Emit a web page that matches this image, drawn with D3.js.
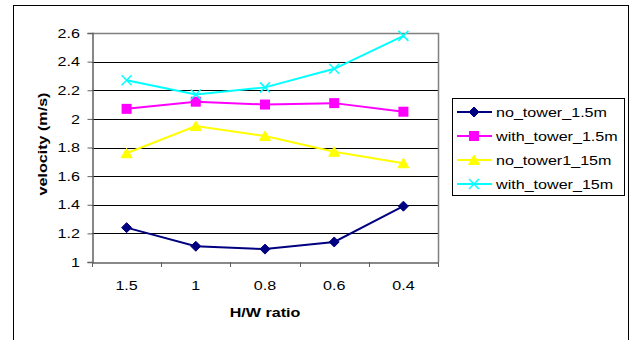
<!DOCTYPE html>
<html><head><meta charset="utf-8">
<script src="https://cdn.jsdelivr.net/npm/d3@7"></script>
<style>body{margin:0;background:#fff;} text{font-family:"Liberation Sans",Arial,sans-serif;}</style>
</head><body>
<svg id="c" width="632" height="340"></svg>
<script>
const categories = ["1.5", "1", "0.8", "0.6", "0.4"];
const seriesNames = ["no_tower_1.5m", "with_tower_1.5m", "no_tower1_15m", "with_tower_15m"];
const noTower15 = [1.24, 1.11, 1.09, 1.14, 1.39];
const withTower15 = [2.07, 2.12, 2.10, 2.11, 2.05];
const noTower1_15m = [1.76, 1.95, 1.88, 1.77, 1.69];
const withTower15m = [2.27, 2.17, 2.22, 2.35, 2.58];
const yTicks = [1, 1.2, 1.4, 1.6, 1.8, 2, 2.2, 2.4, 2.6];
const colors = ["#000080", "#FF00FF", "#FFFF00", "#00FFFF"];
const markers = ["diamond", "square", "triangle", "cross"];
const series = [noTower15, withTower15, noTower1_15m, withTower15m];
const SX = 1.24; // horizontal stretch of text in the reference

const svg = d3.select("#c");
svg.append("rect").attr("x", 13.5).attr("y", 5.5).attr("width", 615).attr("height", 345)
  .attr("fill", "#fff").attr("stroke", "#000");

const L = 92, R = 438, T = 33, B = 262;
const x = d3.scaleBand().domain(categories).range([L, R]);
const y = d3.scaleLinear().domain([1, 2.6]).range([B, T]);

// gridlines
svg.append("g").selectAll("line").data(yTicks.slice(1, -1)).join("line")
  .attr("x1", L).attr("x2", R).attr("y1", d => Math.round(y(d)) + 0.5).attr("y2", d => Math.round(y(d)) + 0.5)
  .attr("stroke", "#000");
// plot area border top/right
svg.append("path").attr("d", `M${L},${T + 0.5}H${R + 0.5}V${B}`).attr("fill", "none").attr("stroke", "#808080").attr("stroke-width", 1.5);

// y axis
const yAxis = svg.append("g").attr("transform", `translate(${L + 0.5},0)`)
  .call(d3.axisLeft(y).tickValues(yTicks).tickFormat(d3.format("")).tickSize(5).tickPadding(3));
yAxis.select(".domain").attr("stroke", "#606060").attr("stroke-width", 1.5);
yAxis.selectAll(".tick line").attr("stroke", "#606060");
yAxis.selectAll("text").attr("x", 0).attr("transform", `translate(-12.5,0) scale(${SX},1)`)
  .attr("font-size", 13).attr("fill", "#000").attr("font-family", "Liberation Sans, Arial, sans-serif");

// x axis
const xAxis = svg.append("g").attr("transform", `translate(0,${B + 0.5})`)
  .call(d3.axisBottom(x).tickSize(0).tickPadding(18));
xAxis.select(".domain").attr("stroke", "#606060").attr("stroke-width", 1.5);
xAxis.selectAll("text").attr("x", 0).attr("transform", `scale(${SX},1)`)
  .attr("font-size", 13).attr("fill", "#000").attr("font-family", "Liberation Sans, Arial, sans-serif");
svg.append("g").selectAll("line").data(categories.concat(["end"])).join("line")
  .attr("x1", (d, i) => Math.round(L + i * x.bandwidth()) + 0.5)
  .attr("x2", (d, i) => Math.round(L + i * x.bandwidth()) + 0.5)
  .attr("y1", B).attr("y2", B + 5).attr("stroke", "#606060");

svg.append("text").attr("transform", `translate(${(L + R) / 2},317) scale(${SX},1)`).attr("text-anchor", "middle")
  .attr("font-size", 13).attr("font-weight", "bold").text("H/W ratio");
svg.append("text").attr("transform", `translate(47,144) rotate(-90) scale(${SX},1)`).attr("text-anchor", "middle")
  .attr("font-size", 13).attr("font-weight", "bold").text("velocity (m/s)");

function drawMarker(g, type, color) {
  if (type === "diamond") g.append("path").attr("d", "M0,-5L5,0L0,5L-5,0Z").attr("fill", color).attr("stroke", color);
  else if (type === "square") g.append("rect").attr("x", -5).attr("y", -5).attr("width", 10).attr("height", 10).attr("fill", color);
  else if (type === "triangle") g.append("path").attr("d", "M0,-5L5.5,4.5L-5.5,4.5Z").attr("fill", color).attr("stroke", color);
  else g.append("path").attr("d", "M-5,-5L5,5M-5,5L5,-5").attr("stroke", color).attr("stroke-width", 1.5).attr("fill", "none");
}

const line = d3.line().x((d, i) => x(categories[i]) + x.bandwidth() / 2).y(d => y(d));
series.forEach((s, k) => {
  svg.append("path").datum(s).attr("d", line).attr("fill", "none").attr("stroke", colors[k]).attr("stroke-width", 2);
  s.forEach((v, i) => {
    const g = svg.append("g").attr("transform", `translate(${x(categories[i]) + x.bandwidth() / 2},${y(v)})`);
    drawMarker(g, markers[k], colors[k]);
  });
});

// legend
svg.append("rect").attr("x", 452.5).attr("y", 98.5).attr("width", 172).attr("height", 97)
  .attr("fill", "#fff").attr("stroke", "#000");
seriesNames.forEach((n, k) => {
  const yy = 112 + k * 24;
  svg.append("line").attr("x1", 457).attr("x2", 492).attr("y1", yy).attr("y2", yy).attr("stroke", colors[k]).attr("stroke-width", 2);
  const g = svg.append("g").attr("transform", `translate(474,${yy})`);
  drawMarker(g, markers[k], colors[k]);
  svg.append("text").attr("transform", `translate(496,${yy}) scale(${SX},1)`).attr("dy", "0.35em").attr("font-size", 13).text(n);
});
</script>
</body></html>
